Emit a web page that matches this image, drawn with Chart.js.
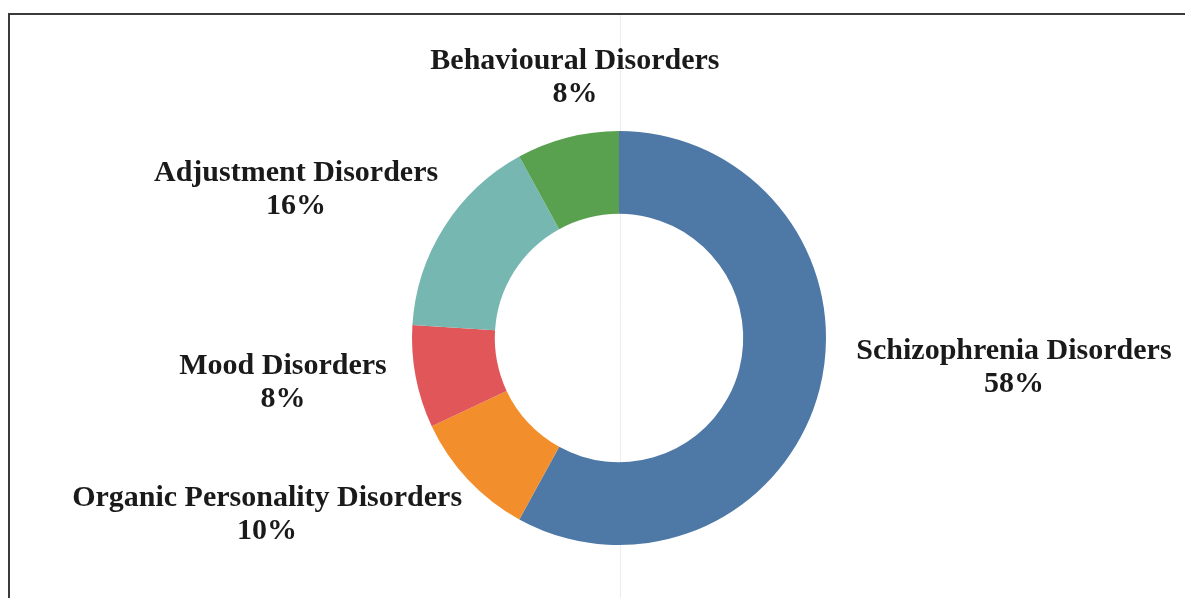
<!DOCTYPE html>
<html>
<head>
<meta charset="utf-8">
<script src="https://cdn.jsdelivr.net/npm/chart.js@4/dist/chart.umd.min.js"></script>
<style>
  html, body { margin: 0; padding: 0; background: #fff; }
  #wrap { width: 1185px; height: 598px; }
</style>
</head>
<body>
<div id="wrap"><canvas id="donut"></canvas></div>
<script>
// Diagnoses, clockwise from 12 o'clock
var CATEGORIES = ["Schizophrenia Disorders", "Organic Personality Disorders", "Mood Disorders", "Adjustment Disorders", "Behavioural Disorders"];
var SHARES = [58, 10, 8, 16, 8]; // percent
var COLORS = ["#4e79a7", "#f28e2b", "#e15759", "#76b7b2", "#59a14f"];

/*
  Frame lines round the figure and the thin guide line down the middle.
*/
var framePlugin = {
  id: "frame",
  beforeDraw: function (chart) {
    var ctx = chart.ctx;
    ctx.save();
    // guide line
    ctx.strokeStyle = "#ececec";
    ctx.lineWidth = 1;
    ctx.beginPath();
    ctx.moveTo(620.5, 15);
    ctx.lineTo(620.5, chart.height);
    ctx.stroke();
    // top + left border
    ctx.strokeStyle = "#3a3a3a";
    ctx.lineWidth = 2;
    ctx.beginPath();
    ctx.moveTo(9, chart.height);
    ctx.lineTo(9, 14);
    ctx.lineTo(chart.width, 14);
    ctx.stroke();
    ctx.restore();
  }
};

/*
  Two-line labels (name + percent) placed outside the ring.
  Offsets are measured from the ring centre in units of the outer radius.
*/
var outerLabels = {
  id: "outerLabels",
  afterDatasetsDraw: function (chart, args, opts) {
    var ctx = chart.ctx;
    var meta = chart.getDatasetMeta(0);
    ctx.save();
    ctx.font = opts.font;
    ctx.fillStyle = opts.color;
    ctx.textAlign = "center";
    ctx.textBaseline = "middle";
    meta.data.forEach(function (arc, i) {
      var off = opts.offsets[i];
      var cx = arc.x + off[0] * arc.outerRadius;
      var cy = arc.y + off[1] * arc.outerRadius;
      var value = chart.data.datasets[0].data[i];
      ctx.fillText(chart.data.labels[i], cx, cy - opts.lineHeight / 2);
      ctx.fillText(value + "%", cx, cy + opts.lineHeight / 2);
    });
    ctx.restore();
  }
};

var ctx = document.getElementById("donut").getContext("2d");
window.myDonut = new Chart(ctx, {
  type: "doughnut",
  data: {
    labels: CATEGORIES,
    datasets: [{
      data: SHARES,
      backgroundColor: COLORS,
      borderWidth: 0
    }]
  },
  options: {
    responsive: true,
    maintainAspectRatio: false,
    animation: false,
    cutout: "60%",
    layout: {
      padding: { top: 131, bottom: 53, left: 250, right: 197 }
    },
    plugins: {
      legend: { display: false },
      tooltip: { enabled: false },
      outerLabels: {
        font: "bold 30px 'Liberation Serif', 'Times New Roman', serif",
        color: "#1a1a1a",
        lineHeight: 33,
        offsets: [
          [1.908, 0.145],
          [-1.70, 0.855],
          [-1.623, 0.217],
          [-1.56, -0.715],
          [-0.213, -1.256]
        ]
      }
    }
  },
  plugins: [framePlugin, outerLabels]
});
</script>
</body>
</html>
